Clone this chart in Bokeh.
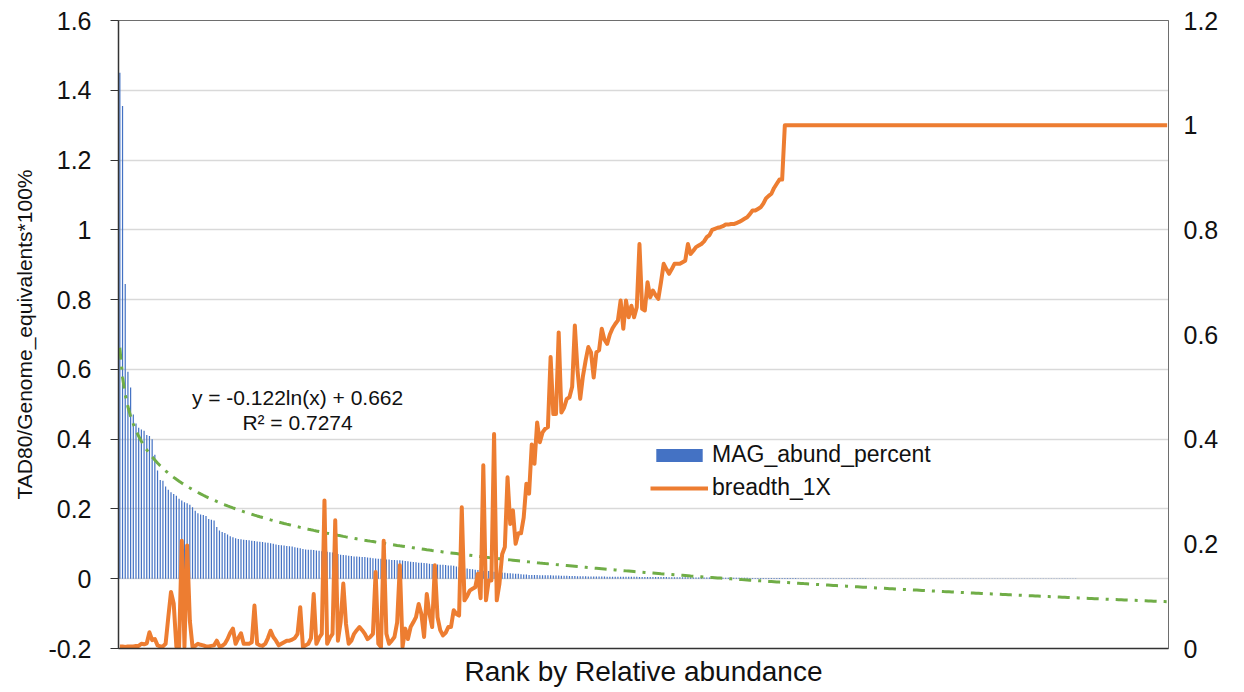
import numpy as np
from bokeh.plotting import figure
from bokeh.models import (Range1d, LinearAxis, FixedTicker, Legend, LegendItem,
                          Label, ColumnDataSource)
from bokeh.embed import file_html
from bokeh.resources import INLINE

# ---------------- data ----------------
MAG_ABUND_PERCENT = [
    1.450, 1.355, 0.845, 0.593, 0.548, 0.471, 0.445, 0.433, 0.428, 0.424,
    0.412, 0.409, 0.400, 0.355, 0.310, 0.283, 0.281, 0.264, 0.255, 0.248,
    0.243, 0.238, 0.229, 0.224, 0.219, 0.216, 0.212, 0.205, 0.195, 0.188,
    0.184, 0.183, 0.180, 0.171, 0.169, 0.167, 0.148, 0.138, 0.134, 0.131,
    0.127, 0.122, 0.119, 0.116, 0.114, 0.113, 0.112, 0.111, 0.110, 0.109,
    0.108, 0.107, 0.106, 0.105, 0.104, 0.103, 0.102, 0.100, 0.098, 0.097,
    0.096, 0.095, 0.094, 0.093, 0.092, 0.090, 0.089, 0.087, 0.085, 0.084,
    0.083, 0.083, 0.082, 0.081, 0.080, 0.079, 0.078, 0.077, 0.076, 0.075,
    0.073, 0.071, 0.069, 0.068, 0.067, 0.066, 0.065, 0.064, 0.064, 0.063,
    0.062, 0.062, 0.061, 0.060, 0.059, 0.058, 0.057, 0.057, 0.056, 0.055,
    0.055, 0.054, 0.054, 0.053, 0.053, 0.052, 0.051, 0.050, 0.049, 0.048,
    0.047, 0.046, 0.046, 0.045, 0.044, 0.043, 0.042, 0.042, 0.041, 0.040,
    0.040, 0.039, 0.038, 0.038, 0.037, 0.035, 0.033, 0.031, 0.030, 0.029,
    0.028, 0.027, 0.026, 0.025, 0.024, 0.023, 0.023, 0.022, 0.021, 0.020,
    0.019, 0.018, 0.018, 0.017, 0.016, 0.016, 0.015, 0.014, 0.014, 0.013,
    0.012, 0.012, 0.011, 0.011, 0.011, 0.011, 0.010, 0.010, 0.010, 0.010,
    0.0098, 0.0095, 0.0092, 0.0090, 0.0088, 0.0085, 0.0082, 0.0080, 0.0078, 0.0076,
    0.0074, 0.0072, 0.0070, 0.0068, 0.0067, 0.0066, 0.0065, 0.0064, 0.0063, 0.0062,
    0.0061, 0.0060, 0.0060, 0.0059, 0.0058, 0.0058, 0.0057, 0.0056, 0.0055, 0.0055,
    0.0054, 0.0053, 0.0053, 0.0052, 0.0051, 0.0051, 0.0050, 0.0049, 0.0049, 0.0048,
    0.0048, 0.0047, 0.0047, 0.0046, 0.0045, 0.0045, 0.0044, 0.0043, 0.0042, 0.0041,
    0.0041, 0.0040, 0.0039, 0.0038, 0.0037, 0.0036, 0.0035, 0.0034, 0.0033, 0.0032,
    0.0031, 0.0031, 0.0030, 0.0030, 0.0029, 0.0029, 0.0028, 0.0028, 0.0027, 0.0027,
    0.0026, 0.0026, 0.0025, 0.0025, 0.0024, 0.0024, 0.0023, 0.0023, 0.0022, 0.0022,
    0.0021, 0.0021, 0.0021, 0.0020, 0.0020, 0.0020, 0.0019, 0.0019, 0.0019, 0.0018,
    0.0018, 0.0018, 0.0017, 0.0017, 0.0017, 0.0016, 0.0016, 0.0016, 0.0015, 0.0015,
    0.0015, 0.0014, 0.0014, 0.0014, 0.0013, 0.0013, 0.0013, 0.0012, 0.0012, 0.0012,
    0.0011, 0.0011, 0.0011, 0.0011, 0.0010, 0.0010, 0.0010, 0.0010, 0.0009, 0.0009,
    0.0009, 0.0009, 0.0009, 0.0008, 0.0008, 0.0008, 0.0008, 0.0008, 0.0007, 0.0007,
    0.0007, 0.0007, 0.0007, 0.0007, 0.0006, 0.0006, 0.0006, 0.0006, 0.0006, 0.0006,
    0.0006, 0.0005, 0.0005, 0.0005, 0.0005, 0.0005, 0.0005, 0.0005, 0.0005, 0.0005,
    0.0005, 0.0005, 0.0005, 0.0005, 0.0005, 0.0004, 0.0004, 0.0004, 0.0004, 0.0004,
    0.0004, 0.0004, 0.0004, 0.0004, 0.0004, 0.0004, 0.0004, 0.0004, 0.0004, 0.0004,
    0.0004, 0.0004, 0.0004, 0.0003, 0.0003, 0.0003, 0.0003, 0.0003, 0.0003, 0.0003,
    0.0003, 0.0003, 0.0003, 0.0003, 0.0003, 0.0003, 0.0003, 0.0003, 0.0003, 0.0003,
    0.0003, 0.0003, 0.0003, 0.0003, 0.0003, 0.0003, 0.0002, 0.0002, 0.0002, 0.0002,
    0.0002, 0.0002, 0.0002, 0.0002, 0.0002, 0.0002, 0.0002, 0.0002, 0.0002, 0.0002,
    0.0002, 0.0002, 0.0002, 0.0002, 0.0002, 0.0002, 0.0002, 0.0002, 0.0002, 0.0002,
    0.0002, 0.0002, 0.0002, 0.0002, 0.0002, 0.0002, 0.0001, 0.0001, 0.0001, 0.0001,
]

BREADTH_1X = [
    0.004, 0.004, 0.003, 0.004, 0.004, 0.004, 0.005, 0.005, 0.009, 0.008,
    0.010, 0.031, 0.016, 0.018, 0.006, 0.004, 0.004, 0.009, 0.060, 0.108,
    0.086, 0.003, 0.003, 0.206, 0.003, 0.197, 0.053, 0.003, 0.005, 0.009,
    0.007, 0.006, 0.004, 0.004, 0.005, 0.006, 0.015, 0.004, 0.005, 0.009,
    0.018, 0.030, 0.038, 0.009, 0.020, 0.029, 0.009, 0.009, 0.009, 0.012,
    0.082, 0.009, 0.006, 0.005, 0.009, 0.020, 0.034, 0.022, 0.015, 0.006,
    0.009, 0.012, 0.015, 0.015, 0.017, 0.020, 0.028, 0.079, 0.003, 0.006,
    0.009, 0.020, 0.104, 0.009, 0.020, 0.028, 0.283, 0.009, 0.020, 0.028,
    0.245, 0.015, 0.050, 0.124, 0.047, 0.009, 0.015, 0.028, 0.035, 0.041,
    0.035, 0.028, 0.018, 0.022, 0.028, 0.146, 0.009, 0.003, 0.206, 0.028,
    0.009, 0.015, 0.022, 0.050, 0.159, 0.003, 0.038, 0.018, 0.041, 0.050,
    0.060, 0.085, 0.066, 0.022, 0.104, 0.066, 0.041, 0.159, 0.060, 0.035,
    0.025, 0.030, 0.041, 0.041, 0.073, 0.066, 0.063, 0.270, 0.092, 0.100,
    0.111, 0.114, 0.117, 0.143, 0.096, 0.350, 0.092, 0.130, 0.130, 0.410,
    0.092, 0.124, 0.180, 0.194, 0.327, 0.238, 0.264, 0.200, 0.220, 0.220,
    0.250, 0.315, 0.296, 0.390, 0.353, 0.432, 0.394, 0.413, 0.420, 0.423,
    0.557, 0.448, 0.448, 0.604, 0.451, 0.460, 0.477, 0.480, 0.500, 0.617,
    0.531, 0.477, 0.520, 0.550, 0.576, 0.566, 0.518, 0.566, 0.570, 0.611,
    0.590, 0.582, 0.600, 0.612, 0.620, 0.627, 0.665, 0.611, 0.665, 0.633,
    0.655, 0.633, 0.652, 0.773, 0.649, 0.646, 0.700, 0.671, 0.684, 0.675,
    0.668, 0.700, 0.735, 0.725, 0.716, 0.725, 0.735, 0.735, 0.735, 0.738,
    0.741, 0.773, 0.754, 0.760, 0.767, 0.770, 0.773, 0.778, 0.786, 0.790,
    0.800, 0.802, 0.804, 0.805, 0.807, 0.810, 0.810, 0.811, 0.811, 0.813,
    0.815, 0.818, 0.821, 0.824, 0.830, 0.837, 0.837, 0.840, 0.843, 0.850,
    0.860, 0.865, 0.869, 0.880, 0.888, 0.896, 0.896, 1.0, 1.0, 1.0,
    1.0, 1.0, 1.0, 1.0, 1.0, 1.0, 1.0, 1.0, 1.0, 1.0,
    1.0, 1.0, 1.0, 1.0, 1.0, 1.0, 1.0, 1.0, 1.0, 1.0,
    1.0, 1.0, 1.0, 1.0, 1.0, 1.0, 1.0, 1.0, 1.0, 1.0,
    1.0, 1.0, 1.0, 1.0, 1.0, 1.0, 1.0, 1.0, 1.0, 1.0,
    1.0, 1.0, 1.0, 1.0, 1.0, 1.0, 1.0, 1.0, 1.0, 1.0,
    1.0, 1.0, 1.0, 1.0, 1.0, 1.0, 1.0, 1.0, 1.0, 1.0,
    1.0, 1.0, 1.0, 1.0, 1.0, 1.0, 1.0, 1.0, 1.0, 1.0,
    1.0, 1.0, 1.0, 1.0, 1.0, 1.0, 1.0, 1.0, 1.0, 1.0,
    1.0, 1.0, 1.0, 1.0, 1.0, 1.0, 1.0, 1.0, 1.0, 1.0,
    1.0, 1.0, 1.0, 1.0, 1.0, 1.0, 1.0, 1.0, 1.0, 1.0,
    1.0, 1.0, 1.0, 1.0, 1.0, 1.0, 1.0, 1.0, 1.0, 1.0,
    1.0, 1.0, 1.0, 1.0, 1.0, 1.0, 1.0, 1.0, 1.0, 1.0,
    1.0, 1.0, 1.0, 1.0, 1.0, 1.0, 1.0, 1.0, 1.0, 1.0,
    1.0, 1.0, 1.0, 1.0, 1.0, 1.0, 1.0, 1.0, 1.0, 1.0,
]

# trendline shown in the chart: y = -0.122 ln(x) + 0.662, R^2 = 0.7274
TREND_SLOPE = -0.122
TREND_INTERCEPT = 0.662
TREND_TEXT = "y = -0.122ln(x) + 0.662"
R2_TEXT = "R² = 0.7274"

LEFT_TICKS = [-0.2, 0.0, 0.2, 0.4, 0.6, 0.8, 1.0, 1.2, 1.4, 1.6]
LEFT_TICK_LABELS = ["-0.2", "0", "0.2", "0.4", "0.6", "0.8", "1", "1.2", "1.4", "1.6"]
RIGHT_TICKS = [0.0, 0.2, 0.4, 0.6, 0.8, 1.0, 1.2]
RIGHT_TICK_LABELS = ["0", "0.2", "0.4", "0.6", "0.8", "1", "1.2"]

SERIES_NAMES = ["MAG_abund_percent", "breadth_1X"]
X_TITLE = "Rank by Relative abundance"
Y_TITLE = "TAD80/Genome_equivalents*100%"

N = len(MAG_ABUND_PERCENT)
assert len(BREADTH_1X) == N
rank = np.arange(1, N + 1)
trend = TREND_SLOPE * np.log(rank) + TREND_INTERCEPT

src = ColumnDataSource(dict(rank=rank, abund=MAG_ABUND_PERCENT,
                            breadth=BREADTH_1X, trend=trend))

FONT = "Liberation Sans"
TXT = "#111111"

p = figure(width=1244, height=692, output_backend="svg", toolbar_location=None,
           title=None,
           x_range=Range1d(0.5, N + 0.5), y_range=Range1d(-0.2, 1.6),
           min_border_left=118, min_border_right=76,
           min_border_top=20, min_border_bottom=44)
p.extra_y_ranges = {"right": Range1d(0, 1.2)}
p.background_fill_color = "white"
p.border_fill_color = "white"
p.outline_line_color = "#6e6e6e"
p.outline_line_width = 1

# grid
p.xgrid.visible = False
p.ygrid.ticker = FixedTicker(ticks=LEFT_TICKS)
p.ygrid.grid_line_color = "#d9d9d9"
p.ygrid.grid_line_width = 1.5

# x axis
xa = p.xaxis[0]
xa.ticker = FixedTicker(ticks=[])
xa.major_tick_out = 0
xa.major_tick_in = 0
xa.minor_tick_out = 0
xa.minor_tick_in = 0
xa.axis_line_color = "#333333"
xa.axis_line_width = 1.5
xa.axis_label = X_TITLE
xa.axis_label_text_font = FONT
xa.axis_label_text_font_size = "28px"
xa.axis_label_text_font_style = "normal"
xa.axis_label_text_color = TXT
xa.axis_label_standoff = 7

# left axis
ya = p.yaxis[0]
ya.ticker = FixedTicker(ticks=LEFT_TICKS)
ya.major_label_overrides = dict(zip(LEFT_TICKS, LEFT_TICK_LABELS))
ya.major_tick_out = 8
ya.major_tick_in = 0
ya.minor_tick_out = 0
ya.minor_tick_in = 0
ya.major_tick_line_color = "#333333"
ya.axis_line_color = "#333333"
ya.axis_line_width = 1.5
ya.major_label_standoff = 19
ya.major_label_text_font = FONT
ya.major_label_text_font_size = "25px"
ya.major_label_text_color = TXT
ya.axis_label = Y_TITLE
ya.axis_label_text_font = FONT
ya.axis_label_text_font_size = "21px"
ya.axis_label_text_font_style = "normal"
ya.axis_label_text_color = TXT
ya.axis_label_standoff = 9

# right axis
ra = LinearAxis(y_range_name="right", ticker=FixedTicker(ticks=RIGHT_TICKS))
ra.major_label_overrides = dict(zip(RIGHT_TICKS, RIGHT_TICK_LABELS))
ra.major_tick_out = 0
ra.major_tick_in = 0
ra.minor_tick_out = 0
ra.minor_tick_in = 0
ra.axis_line_color = "#6e6e6e"
ra.axis_line_width = 1
ra.major_label_standoff = 15
ra.major_label_text_font = FONT
ra.major_label_text_font_size = "25px"
ra.major_label_text_color = TXT
p.add_layout(ra, "right")

# glyphs
bars = p.vbar(x="rank", top="abund", bottom=0, width=0.45, source=src,
              fill_color="#4472C4", line_color=None)
tr = p.line(x="rank", y="trend", source=src, line_color="#70AD47",
            line_width=3, line_dash="12 7 3 7")
ln = p.line(x="rank", y="breadth", source=src, y_range_name="right",
            line_color="#ED7D31", line_width=4, line_join="round")

legend = Legend(items=[LegendItem(label=SERIES_NAMES[0], renderers=[bars]),
                       LegendItem(label=SERIES_NAMES[1], renderers=[ln])],
                location=(532, 147), border_line_color=None,
                background_fill_alpha=0, label_text_font=FONT,
                label_text_font_size="23px", label_text_color=TXT,
                glyph_width=58, glyph_height=16, label_height=26,
                label_standoff=4, spacing=6, padding=0, margin=0)
p.add_layout(legend)

p.add_layout(Label(x=67, y=0.519, text=TREND_TEXT, text_align="center",
                   text_baseline="middle", text_font=FONT,
                   text_font_size="21px", text_color=TXT))
p.add_layout(Label(x=67, y=0.447, text=R2_TEXT, text_align="center",
                   text_baseline="middle", text_font=FONT,
                   text_font_size="21px", text_color=TXT))

open("out.html", "w").write(file_html(p, INLINE))
